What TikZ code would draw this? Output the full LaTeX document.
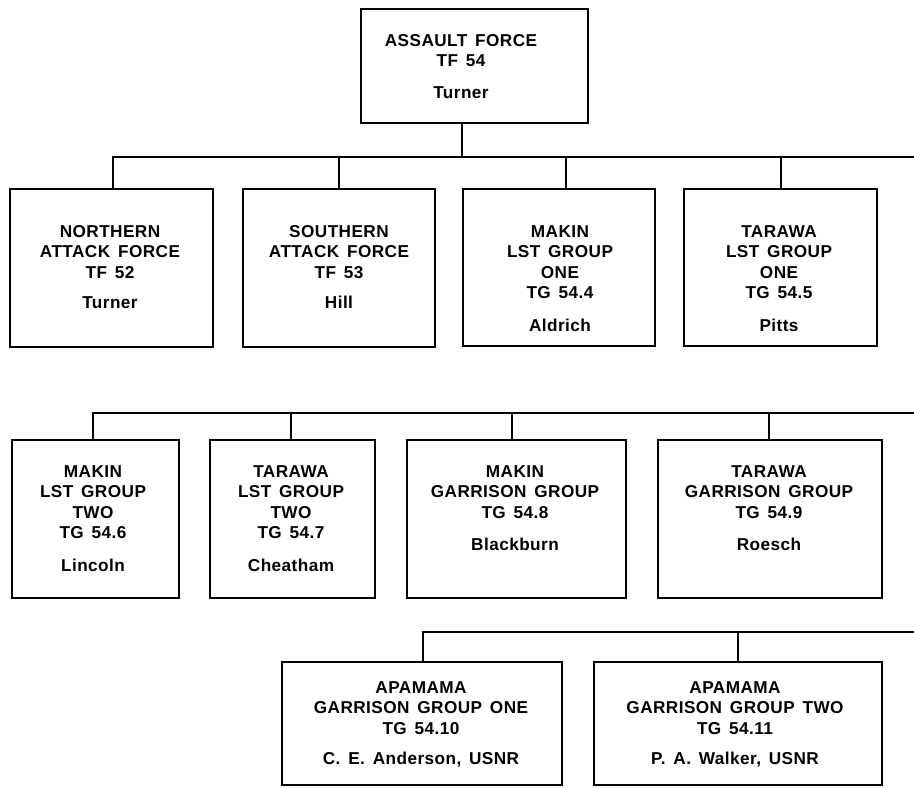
\documentclass[tikz,border=0pt]{standalone}
\usepackage{fontspec}
\setmainfont{Liberation Sans}[WordSpace=1.5,LetterSpace=2.5]
\newcommand\OBox[8]{%
  \node[obox, minimum width={#4-#2}, minimum height={#5-#3}] (#1) at ({(#2+#4)/2},{(#3+#5)/2}) {};
  \node[otext] (#1t) at (#6,#7) {\begin{tabular}[t]{@{}c@{}}#8\end{tabular}};
}
\begin{document}
\begin{tikzpicture}[x=1pt,y=-1pt,
  obox/.style={draw=black, line width=1.6pt, inner sep=0pt, fill=white},
  otext/.style={anchor=base, inner sep=0pt, font=\bfseries\fontsize{17.2}{20.5}\selectfont},
  conn/.style={draw=black, line width=2.4pt}]
\useasboundingbox[fill=white] (0,0) rectangle (914,788);
% ---------- boxes ----------
\OBox{top}{361}{9}{588}{123}{461}{46}{ASSAULT FORCE\\TF 54\\[11pt]Turner}
\OBox{b1}{10}{189}{213}{347}{110}{237}{NORTHERN\\ATTACK FORCE\\TF 52\\[10pt]Turner}
\OBox{b2}{243}{189}{435}{347}{339}{237}{SOUTHERN\\ATTACK FORCE\\TF 53\\[10pt]Hill}
\OBox{b3}{463}{189}{655}{346}{560}{237}{MAKIN\\LST GROUP\\ONE\\TG 54.4\\[12pt]Aldrich}
\OBox{b4}{684}{189}{877}{346}{779}{237}{TARAWA\\LST GROUP\\ONE\\TG 54.5\\[12pt]Pitts}
\OBox{b5}{12}{440}{179}{598}{93}{477}{MAKIN\\LST GROUP\\TWO\\TG 54.6\\[12pt]Lincoln}
\OBox{b6}{210}{440}{375}{598}{291}{477}{TARAWA\\LST GROUP\\TWO\\TG 54.7\\[12pt]Cheatham}
\OBox{b7}{407}{440}{626}{598}{515}{477}{MAKIN\\GARRISON GROUP\\TG 54.8\\[12pt]Blackburn}
\OBox{b8}{658}{440}{882}{598}{769}{477}{TARAWA\\GARRISON GROUP\\TG 54.9\\[12pt]Roesch}
\OBox{b9}{282}{662}{562}{785}{421}{693}{APAMAMA\\GARRISON GROUP ONE\\TG 54.10\\[10pt]C. E. Anderson, USNR}
\OBox{b10}{594}{662}{882}{785}{735}{693}{APAMAMA\\GARRISON GROUP TWO\\TG 54.11\\[10pt]P. A. Walker, USNR}
% ---------- connector points ----------
\coordinate (s0) at (462,157);
\coordinate (s1) at (113,157);
\coordinate (s2) at (339,157);
\coordinate (s3) at (566,157);
\coordinate (s4) at (781,157);
\coordinate (e1) at (914,157);
\coordinate (s5) at (93,413);
\coordinate (s6) at (291,413);
\coordinate (s7) at (512,413);
\coordinate (s8) at (769,413);
\coordinate (e2) at (914,413);
\coordinate (s9) at (423,632);
\coordinate (s10) at (738,632);
\coordinate (e3) at (914,632);
% ---------- connectors ----------
\draw[conn] (top.south -| s0) -- (s0);
\draw[conn] (s1 |- b1.north) -- (s1) -- (e1);
\draw[conn] (s2) -- (s2 |- b2.north);
\draw[conn] (s3) -- (s3 |- b3.north);
\draw[conn] (s4) -- (s4 |- b4.north);
\draw[conn] (s5 |- b5.north) -- (s5) -- (e2);
\draw[conn] (s6) -- (s6 |- b6.north);
\draw[conn] (s7) -- (s7 |- b7.north);
\draw[conn] (s8) -- (s8 |- b8.north);
\draw[conn] (s9 |- b9.north) -- (s9) -- (e3);
\draw[conn] (s10) -- (s10 |- b10.north);
\end{tikzpicture}
\end{document}
